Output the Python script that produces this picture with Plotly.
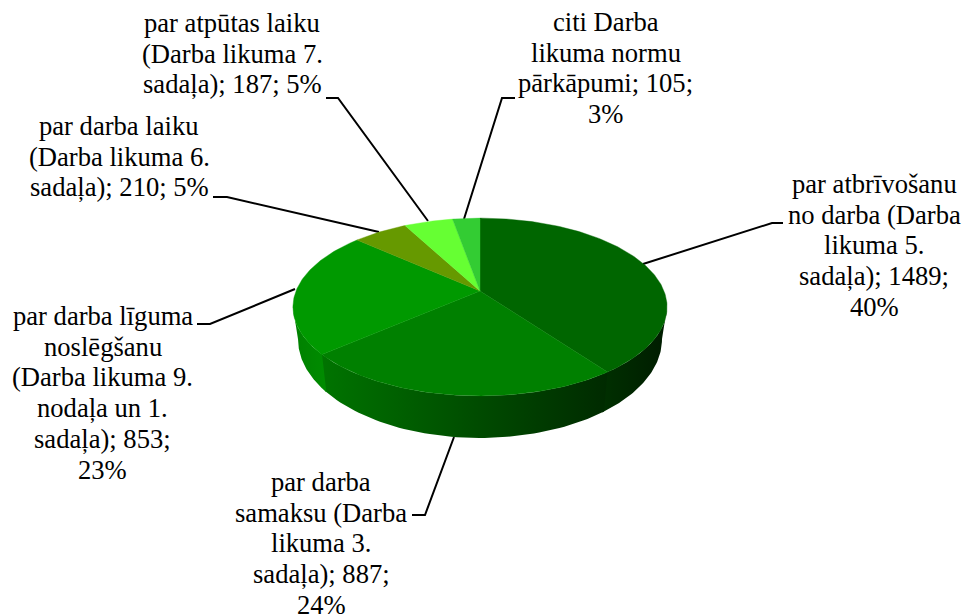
import numpy as np
import plotly.graph_objects as go

categories = ["par atbrīvošanu no darba (Darba likuma 5. sadaļa)",
              "par darba samaksu (Darba likuma 3. sadaļa)",
              "par darba līguma noslēgšanu (Darba likuma 9. nodaļa un 1. sadaļa)",
              "par darba laiku (Darba likuma 6. sadaļa)",
              "par atpūtas laiku (Darba likuma 7. sadaļa)",
              "citi Darba likuma normu pārkāpumi"]
values = [1489, 887, 853, 210, 187, 105]
label_lines = [
    ["par atbrīvošanu", "no darba (Darba", "likuma 5.", "sadaļa); 1489;", "40%"],
    ["par darba", "samaksu (Darba", "likuma 3.", "sadaļa); 887;", "24%"],
    ["par darba līguma", "noslēgšanu", "(Darba likuma 9.", "nodaļa un 1.", "sadaļa); 853;", "23%"],
    ["par darba laiku", "(Darba likuma 6.", "sadaļa); 210; 5%"],
    ["par atpūtas laiku", "(Darba likuma 7.", "sadaļa); 187; 5%"],
    ["citi Darba", "likuma normu", "pārkāpumi; 105;", "3%"],
]
top_colors = ["#006600", "#008000", "#009900", "#669900", "#66FF33", "#33CC33"]
wall_colors = [("#003000", "#001c00"), ("#007400", "#002a00"), ("#008000", "#008c00"),
               None, None, None]

# Page layout (pixels)
W, H = 963, 614
CX, APEX_Y = 480, 291
A, B, P = 184, 86, 0.18
A2, B2, Y2 = 179, 95.4, 321.6
label_pos = [(874, 184), (321, 482), (102.5, 316), (119, 126), (232, 23), (605.5, 22)]
leaders = [
    [(783, 223), (772, 223), (643, 264)],
    [(412, 515), (425, 515), (454, 437)],
    [(197, 324), (210, 324), (295, 289)],
    [(213, 197), (227, 197), (379, 232)],
    [(326, 98), (338, 98), (428, 221)],
    [(515, 98), (502, 98), (464, 219)],
]
LINE_PITCH = 30.7
FONT = "Liberation Serif"
FS = 26.6


def proj(t, a=A, b=B, y0=APEX_Y):
    u, v = np.sin(t), np.cos(t)
    w = 1 + P * v
    return CX + a * u / w, y0 - b * v / w


total = sum(values)
edges = np.concatenate([[0], np.cumsum(values)]) / total * 2 * np.pi
T_R, T_L = np.arccos(-P), 2 * np.pi - np.arccos(-P)

fig = go.Figure()

# leader lines go under the pie
for pts in leaders:
    fig.add_trace(go.Scatter(x=[p[0] for p in pts], y=[p[1] for p in pts], mode="lines",
                             line=dict(color="#000000", width=2), hoverinfo="skip", showlegend=False))

# side walls
for i, cols in enumerate(wall_colors):
    if cols is None:
        continue
    t0, t1 = max(edges[i], T_R), min(edges[i + 1] + 0.012, T_L)
    if t1 <= t0:
        continue
    ts = np.linspace(t0, t1, 60)
    x1, y1 = proj(ts)
    x2, y2 = proj(ts[::-1], A2, B2, Y2)
    fig.add_trace(go.Scatter(
        x=np.concatenate([x1, x2]), y=np.concatenate([y1, y2]), mode="lines", fill="toself",
        line=dict(width=0), hoverinfo="skip", showlegend=False,
        fillgradient=dict(type="horizontal", colorscale=[[0, cols[0]], [1, cols[1]]]),
    ))

# top faces
for i, c in enumerate(top_colors):
    ts = np.linspace(edges[i], edges[i + 1], max(int((edges[i + 1] - edges[i]) * 60), 6))
    x, y = proj(ts)
    fig.add_trace(go.Scatter(
        x=np.concatenate([[CX], x, [CX]]), y=np.concatenate([[APEX_Y], y, [APEX_Y]]),
        mode="lines", fill="toself", fillcolor=c, line=dict(color=c, width=0.4),
        name=categories[i], text=f"{values[i]}", hoverinfo="name+text", showlegend=False,
    ))

annotations = []
for lines, (x0, y0) in zip(label_lines, label_pos):
    for k, s in enumerate(lines):
        annotations.append(dict(x=x0, y=y0 + k * LINE_PITCH, text=s, showarrow=False, xref="x", yref="y",
                                xanchor="center", yanchor="middle",
                                font=dict(family=FONT, size=FS, color="#000000")))

fig.update_layout(
    width=W, height=H, margin=dict(l=0, r=0, t=0, b=0),
    paper_bgcolor="#ffffff", plot_bgcolor="#ffffff",
    xaxis=dict(range=[0, W], visible=False, fixedrange=True),
    yaxis=dict(range=[H, 0], visible=False, fixedrange=True),
    annotations=annotations, showlegend=False,
)
fig.write_html("out.html", config=dict(displayModeBar=False),
               post_script="document.body.style.margin='0';")
